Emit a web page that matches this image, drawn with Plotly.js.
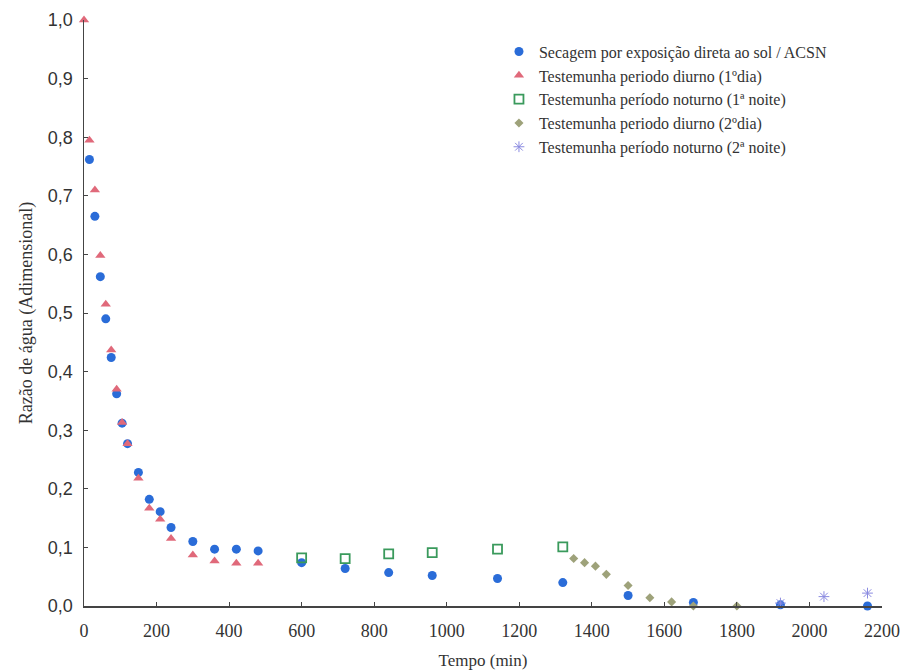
<!DOCTYPE html>
<html>
<head>
<meta charset="utf-8">
<script src="https://cdn.plot.ly/plotly-3.0.1.min.js"></script>
<style>html,body{margin:0;padding:0;background:#fff;}#chart{width:901px;height:672px;}</style>
</head>
<body>
<div id="chart"></div>
<script>
// Secagem por exposição direta ao sol / ACSN
const solX = [15, 30, 45, 60, 75, 90, 105, 120, 150, 180, 210, 240, 300, 360, 420, 480, 600, 720, 840, 960, 1140, 1320, 1500, 1680, 1920, 2160];
const solY = [0.762, 0.665, 0.562, 0.490, 0.424, 0.362, 0.312, 0.277, 0.228, 0.182, 0.161, 0.134, 0.110, 0.097, 0.097, 0.094, 0.074, 0.064, 0.057, 0.052, 0.047, 0.040, 0.018, 0.006, 0.002, 0.0];
// Testemunha período diurno (1º dia)
const dia1X = [0, 15, 30, 45, 60, 75, 90, 105, 120, 150, 180, 210, 240, 300, 360, 420, 480];
const dia1Y = [1.0, 0.795, 0.710, 0.598, 0.515, 0.437, 0.370, 0.313, 0.277, 0.218, 0.167, 0.148, 0.115, 0.087, 0.077, 0.073, 0.073];
// Testemunha período noturno (1ª noite)
const noite1X = [600, 720, 840, 960, 1140, 1320];
const noite1Y = [0.082, 0.081, 0.089, 0.091, 0.097, 0.101];
// Testemunha período diurno (2º dia)
const dia2X = [1350, 1380, 1410, 1440, 1500, 1560, 1620, 1680, 1800];
const dia2Y = [0.081, 0.074, 0.068, 0.054, 0.035, 0.014, 0.007, 0.0, 0.0];
// Testemunha período noturno (2ª noite)
const noite2X = [1920, 2040, 2160];
const noite2Y = [0.005, 0.016, 0.022];

const names = [
  'Secagem por exposição direta ao sol / ACSN',
  'Testemunha periodo diurno (1ºdia)',
  'Testemunha período noturno (1ª noite)',
  'Testemunha periodo diurno (2ºdia)',
  'Testemunha período noturno (2ª noite)'
];
const yTickVals = [0, 0.1, 0.2, 0.3, 0.4, 0.5, 0.6, 0.7, 0.8, 0.9, 1.0];
const yTickText = ['0,0', '0,1', '0,2', '0,3', '0,4', '0,5', '0,6', '0,7', '0,8', '0,9', '1,0'];
const xTickVals = [0, 200, 400, 600, 800, 1000, 1200, 1400, 1600, 1800, 2000, 2200];

const serif = 'Liberation Serif';
const sans = 'Liberation Sans';

const traces = [
  {x: solX, y: solY, name: names[0], mode: 'markers', type: 'scatter', cliponaxis: false,
   marker: {symbol: 'circle', size: 9, color: '#2a6cd8'}},
  {x: dia1X, y: dia1Y, name: names[1], mode: 'markers', type: 'scatter', cliponaxis: false,
   marker: {symbol: 'triangle-up', size: 9, color: '#e0697a'}},
  {x: noite1X, y: noite1Y, name: names[2], mode: 'markers', type: 'scatter', cliponaxis: false,
   marker: {symbol: 'square-open', size: 9, color: '#3a9a5c', line: {width: 1.8}}},
  {x: dia2X, y: dia2Y, name: names[3], mode: 'markers', type: 'scatter', cliponaxis: false,
   marker: {symbol: 'diamond', size: 7, color: '#9ea27a'}},
  {x: noite2X, y: noite2Y, name: names[4], mode: 'markers', type: 'scatter', cliponaxis: false,
   marker: {symbol: 'asterisk-open', size: 9, color: '#8a8ae0', line: {width: 1, color: '#8a8ae0'}}}
];

const layout = {
  width: 901, height: 672,
  margin: {l: 84, r: 19, t: 20, b: 66},
  paper_bgcolor: '#fff', plot_bgcolor: '#fff',
  font: {family: serif},
  showlegend: true,
  legend: {x: 0.52, y: 0.975, xanchor: 'left', yanchor: 'top', bgcolor: 'rgba(0,0,0,0)',
           font: {family: serif, size: 16, color: '#333'},
           tracegroupgap: 0, itemwidth: 30},
  xaxis: {
    range: [0, 2200], tickvals: xTickVals, ticks: 'inside', ticklen: 4, tickcolor: '#444',
    showline: true, linecolor: '#444', linewidth: 1.5, showgrid: false, zeroline: false,
    ticklabelstandoff: 8,
    tickfont: {family: serif, size: 18, color: '#333'},
    title: {text: 'Tempo (min)', font: {family: serif, size: 17, color: '#333'}, standoff: 14}
  },
  yaxis: {
    range: [0, 1.0], tickvals: yTickVals, ticktext: yTickText, ticks: 'inside', ticklen: 4, tickcolor: '#444',
    showline: true, linecolor: '#444', linewidth: 1.5, showgrid: false, zeroline: false,
    ticklabelstandoff: 6,
    tickfont: {family: sans, size: 18, color: '#333'},
    title: {text: 'Razão de água (Adimensional)', font: {family: serif, size: 18, color: '#333'}, standoff: 10}
  }
};

Plotly.newPlot('chart', traces, layout, {displayModeBar: false, staticPlot: true});
</script>
</body>
</html>
